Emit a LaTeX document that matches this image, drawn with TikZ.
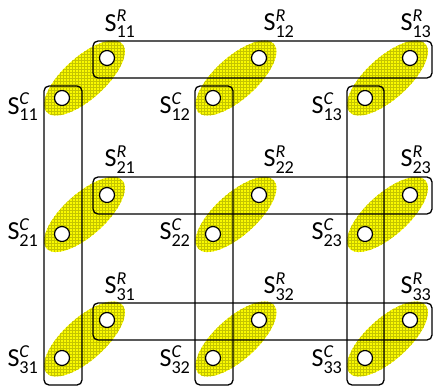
\documentclass[tikz,border=0pt]{standalone}
\usepackage{amsmath}
\usepackage{fontspec}
\setmainfont{Carlito}
\usetikzlibrary{patterns, shapes.geometric}
\definecolor{hyyellow}{HTML}{FAFA00}
\definecolor{hygrid}{HTML}{C4C400}
\newcommand{\setlbl}[2]{S$^{\text{\itshape #1}}_{\text{#2}}$}
\tikzset{
  pairell/.style ={ellipse, fill=hyyellow, minimum width=102pt, minimum height=42pt,
                   inner sep=0pt, rotate=42, postaction={pattern=grid, pattern color=hygrid}},
  vtx/.style     ={circle, draw=black, fill=white, line width=1.2pt, minimum size=15pt, inner sep=0pt},
  setbox/.style  ={draw=black, rounded corners=5pt, line width=1.3pt},
  setlbl/.style  ={font=\fontsize{26}{29}\selectfont, inner sep=0pt},
}

\begin{document}
\begin{tikzpicture}[x=1pt, y=-1pt]
  \useasboundingbox (0,0) rectangle (433,387);
  % ellipses joining the two members of each pair
  \foreach \i/\yu/\yl in {1/58/98, 2/195/234, 3/320/358}
    \foreach \j/\xl/\xu in {1/62/107, 2/213/259, 3/365/410}
      \node[pairell] (e\i\j) at ({(\xl+\xu)/2}, {(\yl+\yu)/2}) {};
  % row sets
  \draw[setbox] (93,41)  rectangle (432,78);
  \draw[setbox] (93,177) rectangle (432,214);
  \draw[setbox] (93,303) rectangle (432,340);
  % column sets
  \draw[setbox] (44,86)  rectangle (82,385);
  \draw[setbox] (195,86) rectangle (233,385);
  \draw[setbox] (347,86) rectangle (384,385);
  % members
  \foreach \i/\yu/\yl in {1/58/98, 2/195/234, 3/320/358}
    \foreach \j/\xl/\xu in {1/62/107, 2/213/259, 3/365/410} {
      \node[vtx] (r\i\j) at (\xu,\yu) {};
      \node[vtx] (c\i\j) at (\xl,\yl) {};
    }
  % labels
  \foreach \i/\yr/\yc in {1/24/107, 2/160/233, 3/287/360}
    \foreach \j/\xr/\xc in {1/120/23, 2/279/175, 3/416/327} {
      \node[setlbl] (lr\i\j) at (\xr,\yr) {\setlbl{R}{\i\j}};
      \node[setlbl] (lc\i\j) at (\xc,\yc) {\setlbl{C}{\i\j}};
    }
\end{tikzpicture}
\end{document}
